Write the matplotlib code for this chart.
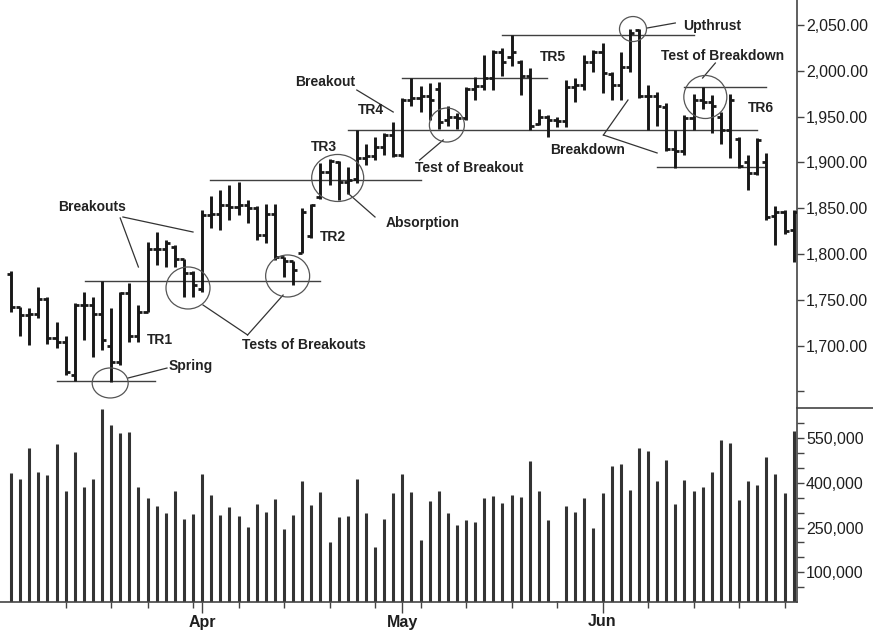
import matplotlib
matplotlib.use("Agg")
import matplotlib.pyplot as plt
from matplotlib.patches import Ellipse
from matplotlib.lines import Line2D
from matplotlib.ticker import FixedLocator, FuncFormatter

# ---------------- data ----------------
opens = [1778, 1742, 1733, 1735, 1751, 1708, 1704, 1668, 1744, 1744,
         1735, 1700, 1682, 1757, 1710, 1737, 1806, 1806, 1808, 1795,
         1779, 1762, 1843, 1844, 1853, 1851, 1853, 1850, 1821, 1844,
         1797, 1792, 1801, 1820, 1862, 1890, 1900, 1879, 1882, 1905,
         1907, 1917, 1930, 1908, 1968, 1970, 1973, 1980, 1946, 1950,
         1948, 1980, 1983, 1992, 2021, 2015, 2010, 1994, 1942, 1950,
         1946, 1945, 1982, 1985, 2010, 2021, 1997, 1984, 2004, 2044,
         1972, 1972, 1960, 1915, 1912, 1948, 1968, 1966, 1950, 1935,
         1926, 1900, 1888, 1900, 1842, 1846, 1826]
highs = [1781, 1742, 1741, 1764, 1753, 1726, 1710, 1746, 1759, 1753,
         1770, 1741, 1759, 1768, 1744, 1813, 1824, 1815, 1810, 1795,
         1781, 1848, 1863, 1870, 1875, 1879, 1859, 1852, 1855, 1855,
         1797, 1792, 1850, 1855, 1899, 1904, 1902, 1895, 1935, 1920,
         1928, 1932, 1944, 1970, 1992, 1983, 1987, 1988, 1962, 1954,
         1982, 1993, 2017, 2023, 2025, 2039, 2012, 2003, 1958, 1952,
         1950, 1990, 1992, 2017, 2023, 2030, 1999, 2021, 2046, 2046,
         1984, 1977, 1965, 1935, 1952, 1975, 1982, 1974, 1955, 1975,
         1928, 1908, 1927, 1910, 1852, 1848, 1848]
lows = [1737, 1710, 1701, 1730, 1702, 1697, 1668, 1661, 1706, 1688,
        1695, 1660, 1679, 1704, 1704, 1737, 1788, 1786, 1786, 1753,
        1753, 1758, 1828, 1826, 1837, 1843, 1834, 1815, 1812, 1793,
        1775, 1766, 1801, 1817, 1860, 1875, 1859, 1866, 1878, 1897,
        1903, 1908, 1906, 1906, 1962, 1955, 1946, 1937, 1940, 1936,
        1946, 1968, 1979, 1979, 1994, 2005, 1974, 1935, 1941, 1928,
        1939, 1939, 1966, 1979, 1999, 1976, 1968, 1968, 1999, 1970,
        1935, 1940, 1912, 1894, 1908, 1935, 1958, 1932, 1920, 1905,
        1894, 1870, 1886, 1837, 1810, 1822, 1791]
closes = [1742, 1733, 1735, 1751, 1708, 1704, 1671, 1744, 1744, 1735,
          1706, 1682, 1757, 1710, 1737, 1806, 1806, 1812, 1795, 1779,
          1766, 1843, 1844, 1853, 1851, 1853, 1850, 1821, 1844, 1797,
          1792, 1782, 1846, 1853, 1890, 1902, 1879, 1881, 1905, 1907,
          1917, 1930, 1908, 1968, 1970, 1973, 1968, 1944, 1950, 1948,
          1980, 1983, 1992, 2021, 2010, 2020, 1994, 1940, 1950, 1946,
          1945, 1982, 1985, 2010, 2021, 1998, 1984, 2004, 2041, 1972,
          1972, 1962, 1915, 1912, 1948, 1968, 1966, 1962, 1935, 1968,
          1896, 1888, 1925, 1840, 1846, 1825, 1846]
volumes = [434, 412, 519, 438, 426, 530, 374, 505, 385, 415,
           650, 595, 567, 572, 385, 350, 322, 299, 374, 280,
           295, 430, 360, 291, 320, 288, 252, 331, 304, 347,
           246, 291, 405, 326, 369, 203, 284, 288, 415, 299,
           185, 280, 365, 430, 369, 207, 338, 372, 299, 258,
           277, 269, 350, 357, 334, 360, 353, 475, 374, 277,
           5, 322, 304, 350, 250, 365, 457, 465, 378, 519,
           507, 407, 476, 330, 411, 374, 388, 438, 545, 533,
           342, 407, 392, 487, 430, 365, 575]
volumes = [v * 1000 for v in volumes]

month_labels = ["Apr", "May", "Jun"]
month_index = [21, 43, 65]
week_index = [6, 11, 15, 20, 25, 30, 35, 40, 45, 50, 55, 60, 65, 70, 75, 80, 85]
price_ticks = [1650, 1700, 1750, 1800, 1850, 1900, 1950, 2000, 2050]
volume_ticks = [50000 * i for i in range(1, 13)]
volume_labelled = [100000, 250000, 400000, 550000]

# trading-range lines: (price, first bar, last bar)
range_lines = [(1661, 5.05, 15.8), (1770, 8.1, 34.0), (1881, 21.9, 45.0),
               (1935.4, 37.0, 82.0), (1992.5, 43.0, 58.9), (2039, 54.0, 75.0),
               (1982.6, 74.0, 83.0), (1895.3, 71.0, 83.0)]

# ---------------- style ----------------
FONT = "Liberation Sans"
BAR = "#181818"
GREY = "#333333"
PX_X = 9.1      # pixels per bar
PX_Y = 0.916    # pixels per price point

fig = plt.figure(figsize=(8.73, 6.32), dpi=100)
fig.patch.set_facecolor("white")
axp = fig.add_axes([0.0, (632 - 408) / 632, 797 / 873, 408 / 632])
axv = fig.add_axes([0.0, 30 / 632, 797 / 873, (602 - 408) / 632], sharex=axp)

x = list(range(len(closes)))

# price bars
axp.vlines(x, lows, highs, color=BAR, lw=2.1, zorder=3)
axp.hlines(opens, [i - 0.45 for i in x], x, color=BAR, lw=2.0, zorder=3)
axp.hlines(closes, x, [i + 0.45 for i in x], color=BAR, lw=2.0, zorder=3)

for price, a, b in range_lines:
    axp.plot([a, b], [price, price], color="#404040", lw=1.0, zorder=2)

# volume bars
axv.vlines(x, 0, volumes, color=GREY, lw=2.2)

axp.set_xlim(-11 / PX_X, (797 - 11) / PX_X)
axp.set_ylim(2050 - 383 / PX_Y, 2050 + 25 / PX_Y)
axv.set_ylim(0, 652000)

for ax in (axp, axv):
    for s in ("left", "top"):
        ax.spines[s].set_visible(False)
    ax.spines["right"].set_color("#444444")
    ax.spines["right"].set_linewidth(1.2)
    ax.yaxis.tick_right()
    ax.tick_params(axis="y", direction="out", length=5, width=1, color="#444444",
                   labelsize=11.5, labelcolor="#1e1e1e", pad=1.5)
axp.spines["bottom"].set_visible(False)
axv.spines["bottom"].set_color("#444444")
axv.spines["bottom"].set_linewidth(1.2)

axp.yaxis.set_major_locator(FixedLocator(price_ticks))
axp.yaxis.set_major_formatter(FuncFormatter(lambda v, p: "" if v < 1690 else f"{v:,.2f}"))
axv.yaxis.set_major_locator(FixedLocator(volume_ticks))
axv.yaxis.set_major_formatter(FuncFormatter(lambda v, p: f"{v:,.0f}" if round(v) in volume_labelled else ""))

axp.tick_params(axis="x", which="both", bottom=False, labelbottom=False)
axv.xaxis.set_major_locator(FixedLocator(month_index))
axv.set_xticklabels(month_labels)
axv.xaxis.set_minor_locator(FixedLocator(week_index))
axv.tick_params(axis="x", which="major", length=8, width=1, color="#444444",
                labelsize=11.5, labelcolor="#1e1e1e", pad=1)
axv.tick_params(axis="x", which="minor", length=4, width=1, color="#444444")

for lab in axp.get_yticklabels() + axv.get_yticklabels() + axv.get_xticklabels():
    lab.set_fontfamily(FONT)
for lab in axv.get_xticklabels():
    lab.set_fontweight("bold")

# separator on the label strip
fig.add_artist(Line2D([797 / 873, 1.0], [(632 - 408) / 632] * 2, color="#444444", lw=1.2))

# ---------------- annotations ----------------
def label(txt, xi, p):
    axp.text(xi, p, txt, ha="center", va="center", fontsize=10, fontweight="bold",
             family=FONT, color="#222222", zorder=5)

def leader(x0, p0, x1, p1):
    axp.plot([x0, x1], [p0, p1], color="#333333", lw=0.9, zorder=4)

def ring(xi, p, rx, ry):
    axp.add_patch(Ellipse((xi, p), 2 * rx / PX_X, 2 * ry / PX_Y, fill=False,
                          ec="#555555", lw=0.9, zorder=4))

label("Breakouts", 8.9, 1851.3)
leader(12.0, 1839.3, 14.0, 1785.8)
leader(12.3, 1840.4, 20.0, 1824.0)
label("TR1", 16.4, 1706.1)
label("Spring", 19.7, 1677.7)
leader(12.86, 1664.6, 17.14, 1675.5)
label("Tests of Breakouts", 32.2, 1700.7)
leader(26.0, 1711.6, 21.1, 1744.3)
leader(26.0, 1711.6, 29.9, 1755.2)
label("TR2", 35.4, 1818.6)
label("Absorption", 45.2, 1833.8)
leader(37.0, 1866.6, 40.0, 1840.4)
label("TR3", 34.4, 1916.8)
label("TR4", 39.5, 1957.2)
label("Breakout", 34.5, 1987.8)
leader(38.0, 1979.0, 42.0, 1955.0)
label("Test of Breakout", 50.4, 1893.9)
leader(44.9, 1902.6, 47.5, 1924.5)
label("TR5", 59.5, 2015.1)
label("Upthrust", 77.1, 2048.9)
leader(69.9, 2046.7, 73.0, 2052.2)
label("Test of Breakdown", 78.2, 2016.2)
leader(77.4, 2008.5, 76.0, 1992.1)
label("TR6", 82.4, 1959.4)
label("Breakdown", 63.4, 1913.5)
leader(65.1, 1929.9, 67.8, 1968.1)
leader(65.1, 1929.9, 71.0, 1910.3)

ring(10.9, 1659.2, 18, 15)
ring(19.45, 1762.9, 22, 21)
ring(30.4, 1776.0, 22, 21)
ring(35.9, 1883.0, 26, 23.5)
ring(47.9, 1940.8, 17.5, 17)
ring(68.35, 2045.6, 13.5, 12.5)
ring(76.3, 1971.4, 21.5, 21.5)

fig.savefig("out.png", dpi=100, facecolor="white")
